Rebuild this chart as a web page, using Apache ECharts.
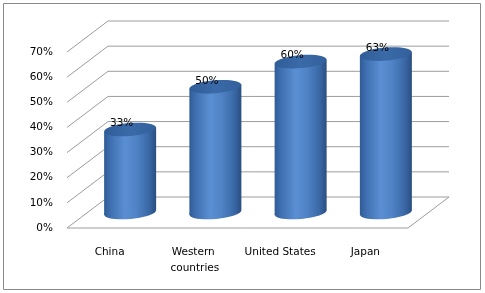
<!DOCTYPE html>
<html>
<head>
<meta charset="utf-8">
<script src="https://cdn.jsdelivr.net/npm/echarts@6/dist/echarts.min.js"></script>
<style>
html,body{margin:0;padding:0;background:#fff;}
#chart{width:485px;height:293px;}
</style>
</head>
<body>
<div id="chart"></div>
<script>
var categories = ['China', 'Western countries', 'United States', 'Japan'];
var values = [0.33, 0.50, 0.60, 0.63];
var tickValues = [0, 0.1, 0.2, 0.3, 0.4, 0.5, 0.6, 0.7];

var DX = 41, DY = -31;      // depth offset of the 3D box
var LINE = '#9c9c9c';

var chart = echarts.init(document.getElementById('chart'));

function frameItem(params, api) {
  var cs = params.coordSys;
  var v = api.value(1);
  var y = api.coord([0, v])[1];
  var x0 = cs.x, x1 = cs.x + cs.width;
  var children = [
    {type: 'line', shape: {x1: x0, y1: y, x2: x0 + DX, y2: y + DY}, style: {stroke: LINE, lineWidth: 1}},
    {type: 'line', shape: {x1: x0 + DX, y1: y + DY, x2: x1 + DX, y2: y + DY}, style: {stroke: LINE, lineWidth: 1}}
  ];
  if (v === 0) {
    children.push({type: 'line', shape: {x1: x0, y1: y, x2: x1, y2: y}, style: {stroke: LINE, lineWidth: 1}});
    children.push({type: 'line', shape: {x1: x1, y1: y, x2: x1 + DX, y2: y + DY}, style: {stroke: LINE, lineWidth: 1}});
  }
  return {type: 'group', children: children};
}

function cylinderItem(params, api) {
  var i = api.value(0), v = api.value(1);
  var top = api.coord([i, v]);
  var base = api.coord([i, 0]);
  var band = api.size([1, 0])[0];
  var w = band * 0.61;
  var cx = top[0] + DX / 2;
  var ty = top[1] + DY / 2;
  var by = base[1] + DY / 2;
  var rx = w / 2, ry = 6.5;
  var tilt = 2.2;
  var ang = Math.atan2(tilt, rx);
  var bodyFill = new echarts.graphic.LinearGradient(0, 0, 1, 0, [
    {offset: 0, color: '#305c96'},
    {offset: 0.12, color: '#3f6fb0'},
    {offset: 0.4, color: '#5a8fd3'},
    {offset: 0.62, color: '#4f83c6'},
    {offset: 0.86, color: '#3a68a6'},
    {offset: 1, color: '#2a4f82'}
  ]);
  var topFill = new echarts.graphic.LinearGradient(0, 0, 1, 0, [
    {offset: 0, color: '#305d97'},
    {offset: 0.5, color: '#3a6aa8'},
    {offset: 1, color: '#32609b'}
  ]);
  return {
    type: 'group',
    children: [
      {type: 'ellipse', shape: {cx: cx, cy: by, rx: rx, ry: ry}, rotation: ang, originX: cx, originY: by,
        style: {fill: bodyFill}},
      {type: 'polygon', shape: {points: [
        [cx - rx, ty + tilt], [cx + rx, ty - tilt], [cx + rx, by - tilt], [cx - rx, by + tilt]
      ]}, style: {fill: bodyFill}},
      {type: 'ellipse', shape: {cx: cx, cy: ty, rx: rx, ry: ry}, rotation: ang, originX: cx, originY: ty,
        style: {fill: topFill}},
      {type: 'text', x: cx - 8.5, y: ty - 6,
        style: {text: Math.round(v * 100) + '%', fill: '#000', font: '10.5px "DejaVu Sans"',
          align: 'center', verticalAlign: 'middle'}}
    ]
  };
}

chart.setOption({
  animation: false,
  backgroundColor: '#fff',
  graphic: [{
    type: 'rect', shape: {x: 3.5, y: 3.5, width: 477, height: 286},
    style: {fill: 'none', stroke: '#8a8a8a', lineWidth: 1}, z: 0
  }],
  grid: {left: 67, right: 77, top: 52, bottom: 65},
  xAxis: {
    type: 'category',
    data: categories,
    boundaryGap: true,
    axisLine: {show: false},
    axisTick: {show: false},
    splitLine: {show: false},
    axisLabel: {
      margin: 16, color: '#000', fontSize: 10.5, fontFamily: 'DejaVu Sans',
      width: 82, overflow: 'break', lineHeight: 16, interval: 0
    }
  },
  yAxis: {
    type: 'value',
    min: 0, max: 0.7, interval: 0.1,
    axisLine: {show: false},
    axisTick: {show: false},
    splitLine: {show: false},
    axisLabel: {
      margin: 14, color: '#000', fontSize: 10.5, fontFamily: 'DejaVu Sans',
      formatter: function (v) { return Math.round(v * 100) + '%'; }
    }
  },
  series: [
    {
      type: 'custom', z: 1, silent: true,
      data: tickValues.map(function (t) { return [0, t]; }),
      encode: {x: 0, y: 1},
      renderItem: frameItem
    },
    {
      type: 'custom', z: 2,
      data: values.map(function (v, i) { return [i, v]; }),
      encode: {x: 0, y: 1},
      renderItem: cylinderItem
    }
  ]
});
</script>
</body>
</html>
